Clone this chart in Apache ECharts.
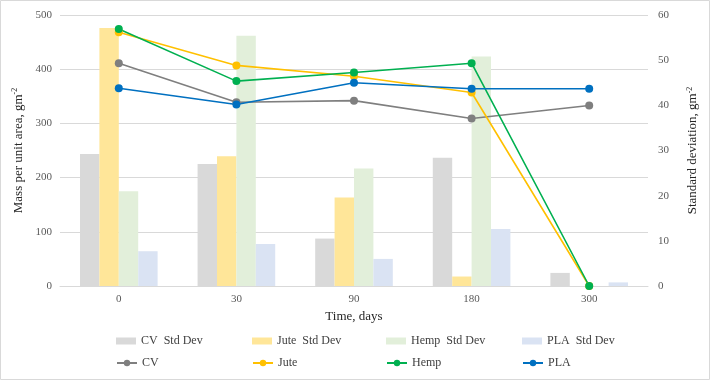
<!DOCTYPE html>
<html><head><meta charset="utf-8">
<script src="https://cdn.jsdelivr.net/npm/echarts@6/dist/echarts.min.js"></script>
<style>html,body{margin:0;padding:0;background:#fff}#c{width:711px;height:381px}</style>
</head><body><div id="c"></div>
<script>
const categories = ['0', '30', '90', '180', '300'];
const cvMass   = [411, 339, 342, 309, 333];
const juteMass = [468, 407, 387, 357, 0];
const hempMass = [474, 378, 394, 411, 0];
const plaMass  = [365, 335, 375, 364, 364];
const cvSD   = [29.2, 27.0, 10.5, 28.4, 2.9];
const juteSD = [57.1, 28.7, 19.6, 2.1, 0];
const hempSD = [21.0, 55.4, 26.0, 50.8, 0];
const plaSD  = [7.7, 9.3, 6.0, 12.6, 0.8];
const barNames  = ['CV  Std Dev', 'Jute  Std Dev', 'Hemp  Std Dev', 'PLA  Std Dev'];
const lineNames = ['CV', 'Jute', 'Hemp', 'PLA'];

const FONT = '"Liberation Serif", "Times New Roman", serif';
const chart = echarts.init(document.getElementById('c'));
function bar(name, data, color) {
  return { name, type: 'bar', yAxisIndex: 1, data, barGap: '0%', barCategoryGap: '34%',
    itemStyle: { color }, z: 1 };
}
function line(name, data, color) {
  return { name, type: 'line', yAxisIndex: 0, data, symbol: 'circle', symbolSize: 8,
    lineStyle: { color, width: 1.6 }, itemStyle: { color }, z: 5 };
}
const legendText = { fontFamily: FONT, fontSize: 12, color: '#404040' };
const legendLefts = [111, 247, 381, 517];
const legends = [];
barNames.forEach((n, i) => legends.push({ data: [{ name: n, icon: 'rect' }], left: legendLefts[i], top: 330,
  itemWidth: 20, itemHeight: 7, textStyle: legendText }));
lineNames.forEach((n, i) => legends.push({ data: [n], left: legendLefts[i], top: 352,
  itemWidth: 20, itemHeight: 8, textStyle: legendText }));
chart.setOption({
  animation: false,
  textStyle: { fontFamily: FONT },
  graphic: [{ type: 'rect', shape: { x: 0.5, y: 0.5, width: 709, height: 379 },
    style: { fill: 'none', stroke: '#d9d9d9', lineWidth: 1 } }],
  grid: { left: 60, right: 63, top: 15, bottom: 95 },
  legend: legends,
  xAxis: { type: 'category', data: categories, boundaryGap: true,
    name: 'Time, days', nameLocation: 'middle', nameGap: 23,
    nameTextStyle: { fontFamily: FONT, fontSize: 13, color: '#262626' },
    axisLine: { lineStyle: { color: '#d9d9d9' } }, axisTick: { show: false },
    axisLabel: { fontFamily: FONT, fontSize: 11, color: '#595959', margin: 8 } },
  yAxis: [
    { type: 'value', min: 0, max: 500, interval: 100,
      name: 'Mass per unit area, gm{sup|-2}', nameLocation: 'middle', nameGap: 32, nameRotate: 90,
      nameTextStyle: { fontFamily: FONT, fontSize: 13, color: '#262626',
        rich: { sup: { fontFamily: FONT, fontSize: 8, color: '#262626', verticalAlign: 'top', padding: [0, 0, 6, 0] } } },
      axisLine: { show: false }, axisTick: { show: false },
      axisLabel: { fontFamily: FONT, fontSize: 11, color: '#595959', margin: 8 },
      splitLine: { lineStyle: { color: '#d9d9d9' } } },
    { type: 'value', min: 0, max: 60, interval: 10, position: 'right',
      name: 'Standard deviation, gm{sup|-2}', nameLocation: 'middle', nameGap: 38, nameRotate: 90,
      nameTextStyle: { fontFamily: FONT, fontSize: 13, color: '#262626',
        rich: { sup: { fontFamily: FONT, fontSize: 8, color: '#262626', verticalAlign: 'top', padding: [0, 0, 6, 0] } } },
      axisLine: { show: false }, axisTick: { show: false },
      axisLabel: { fontFamily: FONT, fontSize: 11, color: '#595959', margin: 10 },
      splitLine: { show: false } }
  ],
  series: [
    bar(barNames[0], cvSD, '#d9d9d9'),
    bar(barNames[1], juteSD, '#ffe699'),
    bar(barNames[2], hempSD, '#e2efda'),
    bar(barNames[3], plaSD, '#dae3f3'),
    line(lineNames[0], cvMass, '#7f7f7f'),
    line(lineNames[1], juteMass, '#ffc000'),
    line(lineNames[2], hempMass, '#00b050'),
    line(lineNames[3], plaMass, '#0070c0')
  ]
});
</script></body></html>
